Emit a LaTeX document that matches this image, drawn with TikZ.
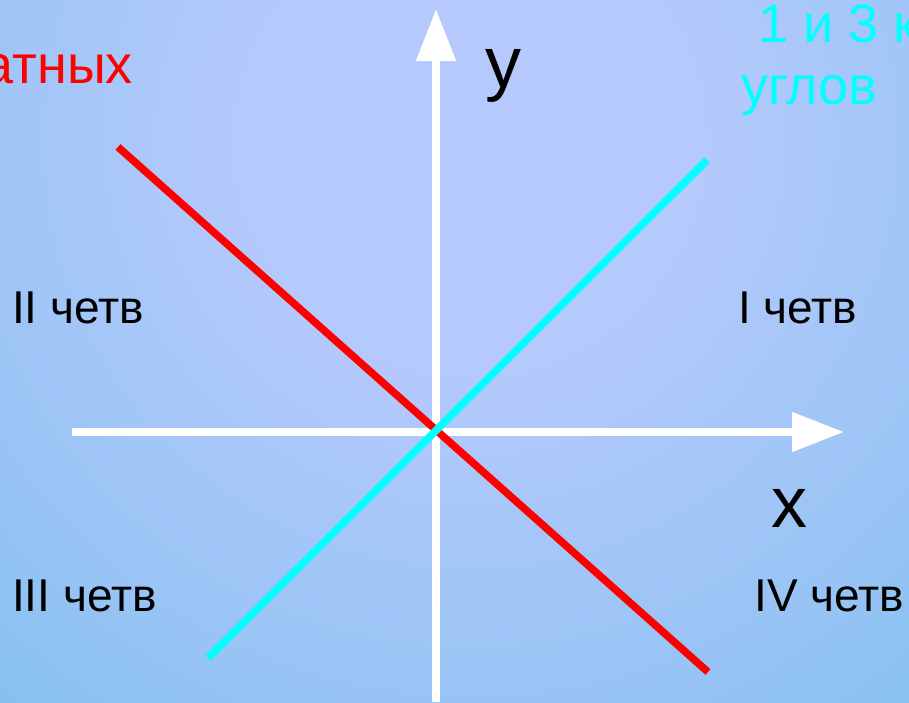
\documentclass[tikz,border=0pt]{standalone}
\usepackage{fontspec}
\setmainfont{Liberation Sans}
\usetikzlibrary{arrows.meta}
\definecolor{bginner}{RGB}{181,201,252}
\definecolor{bgmid}{RGB}{152,196,245}
\definecolor{bgmid2}{RGB}{126,192,238}
\definecolor{bgouter}{RGB}{100,188,232}
\definecolor{redline}{RGB}{255,0,0}
\definecolor{cyanline}{RGB}{0,255,255}
\pgfdeclareradialshading{bgshade}{\pgfpoint{0bp}{0bp}}{%
  color(0bp)=(bginner);
  color(7bp)=(bginner);
  color(18bp)=(bgmid);
  color(26bp)=(bgmid2);
  color(34bp)=(bgouter);
  color(50bp)=(bgouter)}
\tikzset{
  axis/.style={white, line width=8pt, -{Triangle[width=38pt,length=52pt]}},
  graphline/.style={line width=7.5pt},
  lbl/.style={inner sep=0pt, anchor=base west, font=\fontsize{46}{52}\selectfont},
  axlbl/.style={inner sep=0pt, anchor=base west, font=\fontsize{72}{80}\selectfont},
  bigtxt/.style={inner sep=0pt, font=\fontsize{54}{60}\selectfont}
}
\begin{document}
\begin{tikzpicture}[x=1pt,y=-1pt]
\useasboundingbox (0,0) rectangle (909,702);
\clip (0,0) rectangle (909,702);
\shade[shading=bgshade] (470,140) circle (780);
% coordinates
\coordinate (ybot) at (436,702);
\coordinate (ytop) at (436,9);
\coordinate (xleft) at (72,432);
\coordinate (xright) at (844,432);
\coordinate (r1) at (118,147);
\coordinate (r2) at (708,672);
\coordinate (c1) at (208,658);
\coordinate (c2) at (707,160);
% axes
\draw[axis] (ybot) -- (ytop);
\draw[axis] (xleft) -- (xright);
% lines
\draw[graphline, redline] (r1) -- (r2);
\draw[graphline, cyanline] (c1) -- (c2);
% labels
\node[axlbl] (ylab) at (485,87) {y};
\node[axlbl] (xlab) at (771,527) {x};
\node[lbl] (q2) at (12,323) {II четв};
\node[lbl] (q1) at (738,323) {I четв};
\node[lbl] (q3) at (12,611) {III четв};
\node[lbl] (q4) at (754,611) {IV четв};
\node[bigtxt, anchor=base east, text=redline] (redtxt) at (133,83) {атных};
\node[bigtxt, anchor=base west, text=cyanline] (cyantxt1) at (758,42) {1 и 3 к};
\node[bigtxt, anchor=base west, text=cyanline] (cyantxt2) at (741,104) {углов};
\end{tikzpicture}
\end{document}
